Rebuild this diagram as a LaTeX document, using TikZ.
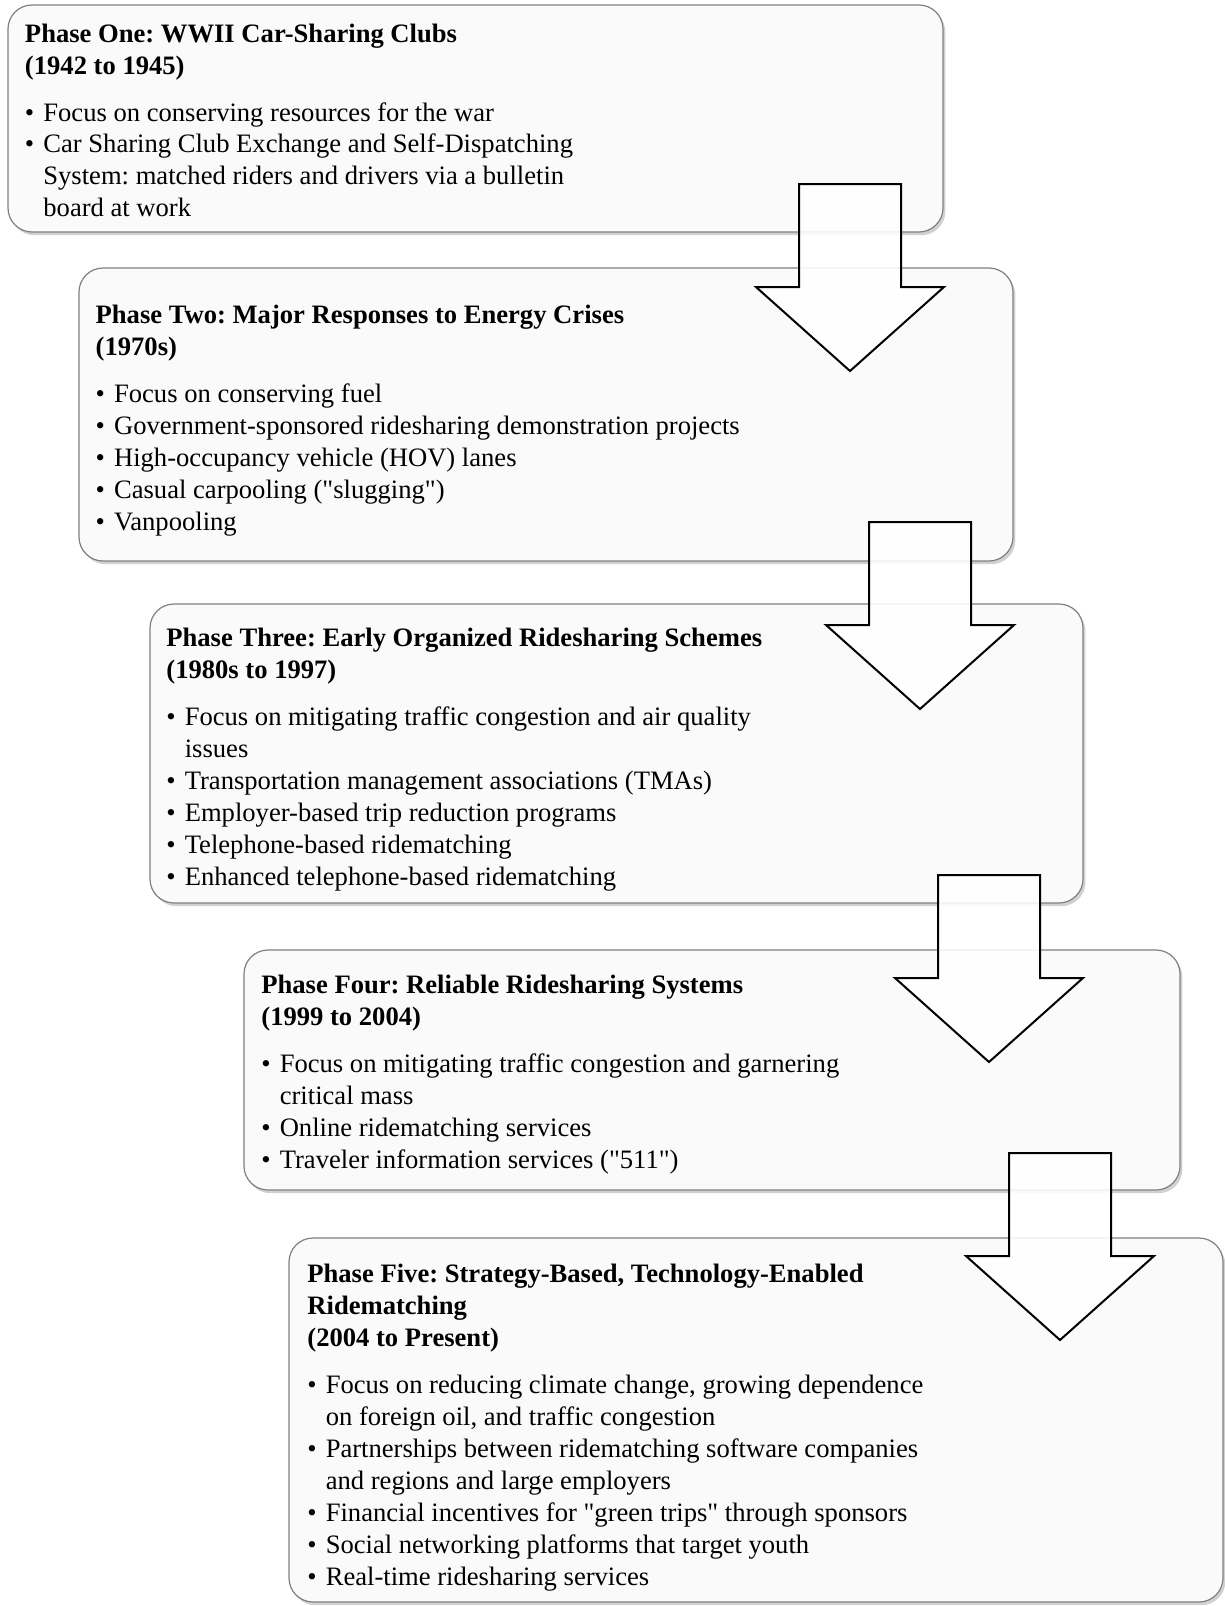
\documentclass[tikz,border=0pt]{standalone}
\usepackage{fontspec}
\setmainfont{Liberation Serif}
\usetikzlibrary{positioning,fit,shadows,calc}

% straight quotes, without the TeX mapping
\font\plainq="Liberation Serif" at 13.3pt
\newcommand{\dq}{{\plainq"}}
\newcommand{\phfont}{\fontsize{13.3pt}{16pt}\selectfont\frenchspacing}
\newcommand{\phitem}[1]{\par\hangindent=9.2pt\hangafter=1\noindent\makebox[9.2pt][l]{\textbullet}#1\par}
\newcommand{\phhead}[1]{\strut\textbf{#1}\par\vspace{7.4pt}}

\begin{document}
\begin{tikzpicture}[
    x=0.5pt, y=-0.5pt,
    phasebox/.style={rectangle, draw=black!50, line width=0.6pt, fill=black!2, rounded corners=12pt, inner sep=0pt,
        drop shadow={shadow xshift=1.2pt, shadow yshift=-1.6pt, opacity=0.3, fill=black!60}},
    phasetext/.style={anchor=north west, inner sep=0pt, text width=340pt, align=flush left, font=\phfont},
    blockarrow/.style={draw=black, line width=1pt, fill=white, fill opacity=0.88, line join=miter},
]
\useasboundingbox (0,0) rectangle (1225,1606);

% ====== Phase boxes ======
\node[phasebox, fit={(8,5) (943,232)}] (one) {};
\node[phasebox, fit={(79,268) (1013,561)}] (two) {};
\node[phasebox, fit={(150,604) (1083,903)}] (three) {};
\node[phasebox, fit={(244,950) (1180,1190)}] (four) {};
\node[phasebox, fit={(289,1238) (1223,1602)}] (five) {};

% ====== Phase texts ======
\node[phasetext] (onetxt) at (24.6,19.4) {%
\phhead{Phase One: WWII Car-Sharing Clubs\\(1942 to 1945)}
\phitem{Focus on conserving resources for the war}
\phitem{Car Sharing Club Exchange and Self-Dispatching\newline System: matched riders and drivers via a bulletin\newline board at work}};

\node[phasetext] (twotxt) at (95.3,301.1) {%
\phhead{Phase Two: Major Responses to Energy Crises\\(1970s)}
\phitem{Focus on conserving fuel}
\phitem{Government-sponsored ridesharing demonstration projects}
\phitem{High-occupancy vehicle (HOV) lanes}
\phitem{Casual carpooling (\dq slugging\dq)}
\phitem{Vanpooling}};

\node[phasetext] (threetxt) at (166,623.7) {%
\phhead{Phase Three: Early Organized Ridesharing Schemes\\(1980s to 1997)}
\phitem{Focus on mitigating traffic congestion and air quality\newline issues}
\phitem{Transportation management associations (TMAs)}
\phitem{Employer-based trip reduction programs}
\phitem{Telephone-based ridematching}
\phitem{Enhanced telephone-based ridematching}};

\node[phasetext] (fourtxt) at (261,971) {%
\phhead{Phase Four: Reliable Ridesharing Systems\\(1999 to 2004)}
\phitem{Focus on mitigating traffic congestion and garnering\newline critical mass}
\phitem{Online ridematching services}
\phitem{Traveler information services (\dq 511\dq)}};

\node[phasetext] (fivetxt) at (307,1259.8) {%
\phhead{Phase Five: Strategy-Based, Technology-Enabled\\Ridematching\\(2004 to Present)}
\phitem{Focus on reducing climate change, growing dependence\newline on foreign oil, and traffic congestion}
\phitem{Partnerships between ridematching software companies\newline and regions and large employers}
\phitem{Financial incentives for \dq green trips\dq{} through sponsors}
\phitem{Social networking platforms that target youth}
\phitem{Real-time ridesharing services}};

% ====== Block arrows between phases ======
\foreach \sx/\sy in {799/184, 869/522, 938/875, 1009/1153}
    \draw[blockarrow] (\sx,\sy) -- ++(102,0) -- ++(0,103) -- ++(43,0) -- ++(-94,84)
        -- ++(-94,-84) -- ++(43,0) -- cycle;

\end{tikzpicture}
\end{document}
